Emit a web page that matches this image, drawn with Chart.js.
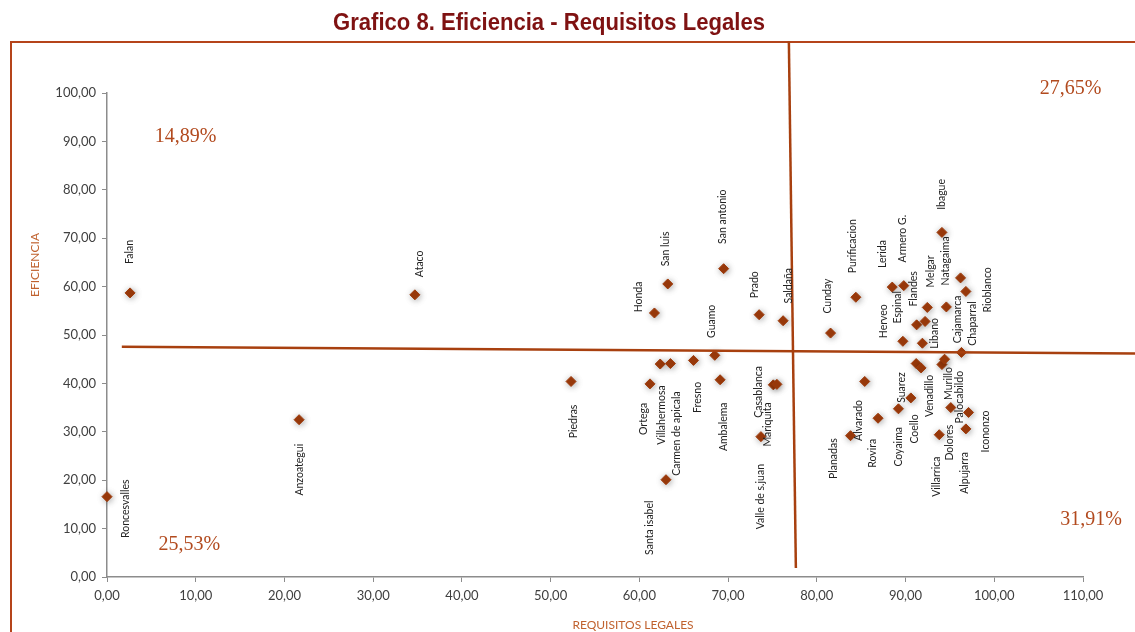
<!DOCTYPE html>
<html>
<head>
<meta charset="utf-8">
<script src="https://cdn.jsdelivr.net/npm/chart.js@4.4.0/dist/chart.umd.min.js"></script>
<style>
  html, body { margin: 0; padding: 0; background: #fff; }
</style>
</head>
<body>
<canvas id="myChart" width="1135" height="632"></canvas>
<script>
// municipios y sus valores (requisitos legales = x, eficiencia = y)
var municipios = [
  "Falan", "Ataco", "Honda", "San luis", "San antonio", "Prado", "Saldaña",
  "Roncesvalles", "Anzoategui", "Piedras", "Ortega", "Villahermosa", "Carmen de apicala",
  "Santa isabel", "Fresno", "Guamo", "Ambalema", "Casablanca", "Mariquita", "Valle de s.juan",
  "Cunday", "Purificacion", "Lerida", "Armero G.", "Ibague", "Rioblanco", "Chaparral",
  "Natagaima", "Melgar", "Espinal", "Herveo", "Flandes", "Libano", "Cajamarca",
  "Alvarado", "Planadas", "Rovira", "Coyaima", "Coello", "Suarez", "Venadillo",
  "Murillo", "Palocabildo", "Dolores", "Icononzo", "Alpujarra", "Villarrica"
];
var requisitos = [
  2.6, 34.7, 61.7, 63.2, 69.5, 73.5, 76.2,
  0.0, 21.65, 52.3, 61.2, 62.35, 63.5,
  63.0, 66.1, 68.5, 69.1, 75.1, 75.5, 73.7,
  81.55, 84.4, 88.5, 89.8, 94.1, 96.2, 96.8,
  94.6, 92.45, 89.7, 91.9, 91.25, 92.2, 96.3,
  85.4, 83.8, 86.9, 89.2, 90.6, 91.2, 91.75,
  94.1, 94.4, 95.1, 97.1, 96.8, 93.8
];
var eficiencia = [
  58.7, 58.3, 54.55, 60.55, 63.7, 54.2, 52.95,
  16.6, 32.5, 40.4, 39.9, 44.0, 44.1,
  20.1, 44.75, 45.8, 40.75, 39.7, 39.8, 29.0,
  50.4, 57.8, 59.9, 60.2, 71.2, 61.8, 59.0,
  55.8, 55.7, 48.7, 48.3, 52.1, 52.8, 46.4,
  40.4, 29.2, 32.8, 34.75, 37.0, 44.1, 43.2,
  43.9, 45.0, 35.0, 34.0, 30.6, 29.4
];

// lineas de los cuadrantes
var lineaHx = [1.67, 115.9];
var lineaHy = [47.55, 46.17];
var lineaVx = [76.85, 77.64];
var lineaVy = [110.7, 1.86];

// porcentajes por cuadrante
var cuadrantes = ["14,89%", "27,65%", "25,53%", "31,91%"];
var cuadX = [8.87, 108.6, 9.27, 110.9];
var cuadY = [91.0, 100.95, 6.6, 11.8];

// desplazamiento de las etiquetas (px) respecto al punto
var etiquetaOff = {
  "Falan": [0, -41], "Ataco": [5, -31], "Roncesvalles": [19, 12], "Anzoategui": [1, 50],
  "Piedras": [3, 40], "Honda": [-16, -16], "San luis": [-2, -35], "San antonio": [-1, -52],
  "Prado": [-5, -30], "Saldaña": [6, -35], "Guamo": [-3, -34], "Ortega": [-6, 35],
  "Villahermosa": [1, 51], "Carmen de apicala": [6, 70], "Fresno": [4, 37], "Ambalema": [4, 47],
  "Casablanca": [-15, 7], "Mariquita": [-9, 40], "Valle de s.juan": [0, 60], "Santa isabel": [-16, 48],
  "Cunday": [-3, -37], "Purificacion": [-3, -51], "Lerida": [-10, -33], "Armero G.": [-1, -47],
  "Ibague": [0, -38], "Natagaima": [-1, -46], "Melgar": [3, -36], "Rioblanco": [27, 12],
  "Chaparral": [7, 32], "Cajamarca": [-4, -33], "Espinal": [-5, -34], "Herveo": [-39, -22],
  "Flandes": [-3, -36], "Libano": [10, 12], "Alvarado": [-6, 39], "Planadas": [-17, 23],
  "Rovira": [-5, 35], "Coyaima": [0, 38], "Suarez": [-15, 24], "Coello": [4, 31],
  "Venadillo": [9, 28], "Murillo": [7, 19], "Palocabildo": [15, 38], "Dolores": [-1, 35],
  "Icononzo": [17, 19], "Alpujarra": [-1, 44], "Villarrica": [-3, 42]
};

var puntos = requisitos.map(function (x, i) { return { x: x, y: eficiencia[i] }; });
var lineaH = lineaHx.map(function (x, i) { return { x: x, y: lineaHy[i] }; });
var lineaV = lineaVx.map(function (x, i) { return { x: x, y: lineaVy[i] }; });

var fmt = function (v) { return v.toFixed(2).replace('.', ','); };

var marco = {
  id: 'marco',
  beforeDraw: function (chart) {
    var ctx = chart.ctx;
    ctx.save();
    ctx.fillStyle = '#fff';
    ctx.fillRect(0, 0, chart.width, chart.height);
    ctx.strokeStyle = '#b5441a';
    ctx.lineWidth = 2;
    ctx.beginPath();
    ctx.moveTo(11, chart.height);
    ctx.lineTo(11, 42);
    ctx.lineTo(chart.width, 42);
    ctx.stroke();
    // titulo (letra condensada)
    var titulo = 'Grafico 8. Eficiencia - Requisitos Legales';
    ctx.fillStyle = '#7f1212';
    ctx.font = 'bold 24px "Liberation Sans", Arial';
    ctx.textAlign = 'center';
    ctx.textBaseline = 'middle';
    var w = ctx.measureText(titulo).width;
    ctx.save();
    ctx.translate(549, 23);
    ctx.scale(432 / w, 1);
    ctx.fillText(titulo, 0, 0);
    ctx.restore();
    // titulos de ejes
    ctx.fillStyle = '#c0622f';
    ctx.font = '12px Lato, "Open Sans", sans-serif';
    ctx.fillText('REQUISITOS LEGALES', 633, 625);
    ctx.translate(35, 265);
    ctx.rotate(-Math.PI / 2);
    ctx.fillText('EFICIENCIA', 0, 0);
    ctx.restore();
  },
  beforeDatasetDraw: function (chart, args) {
    if (args.index === 2) {
      var ctx = chart.ctx;
      ctx.save();
      ctx.shadowColor = 'rgba(0,0,0,0.35)';
      ctx.shadowBlur = 6;
      ctx.shadowOffsetX = 1;
      ctx.shadowOffsetY = 1;
    }
  },
  afterDatasetDraw: function (chart, args) {
    if (args.index === 2) chart.ctx.restore();
  },
  afterDatasetsDraw: function (chart) {
    var ctx = chart.ctx;
    var xs = chart.scales.x, ys = chart.scales.y;
    ctx.save();
    ctx.fillStyle = '#222';
    ctx.font = '10.5px Lato, "Open Sans", sans-serif';
    ctx.textAlign = 'center';
    ctx.textBaseline = 'middle';
    chart.getDatasetMeta(2).data.forEach(function (pt, i) {
      var off = etiquetaOff[municipios[i]] || [0, -35];
      ctx.save();
      ctx.translate(pt.x + off[0], pt.y + off[1]);
      ctx.rotate(-Math.PI / 2);
      ctx.fillText(municipios[i], 0, 0);
      ctx.restore();
    });
    ctx.fillStyle = '#b24a1e';
    ctx.font = '20px "Liberation Serif", "DejaVu Serif", serif';
    cuadrantes.forEach(function (t, i) {
      ctx.fillText(t, xs.getPixelForValue(cuadX[i]), ys.getPixelForValue(cuadY[i]));
    });
    ctx.restore();
  }
};

var ctx = document.getElementById("myChart").getContext('2d');
var myChart = new Chart(ctx, {
  type: 'scatter',
  data: {
    datasets: [{
      data: lineaH,
      showLine: true,
      borderColor: '#a8400f',
      borderWidth: 2.5,
      pointRadius: 0,
      clip: false
    }, {
      data: lineaV,
      showLine: true,
      borderColor: '#a8400f',
      borderWidth: 2.5,
      pointRadius: 0,
      clip: false
    }, {
      data: puntos,
      pointStyle: 'rectRot',
      pointRadius: 5,
      backgroundColor: '#9e3b0b',
      borderColor: '#9e3b0b',
      borderWidth: 1,
      clip: false
    }]
  },
  options: {
    responsive: false,
    animation: false,
    layout: { padding: { top: 93, right: 52, left: 0, bottom: 0 } },
    plugins: { legend: { display: false }, tooltip: { enabled: false } },
    scales: {
      x: {
        min: 0, max: 110,
        ticks: { stepSize: 10, callback: fmt, color: '#404040', padding: 6, maxRotation: 0,
                 font: { family: 'Lato, "Open Sans", sans-serif', size: 13 } },
        grid: { display: true, drawOnChartArea: false, tickLength: 5, color: '#8c8c8c' },
        border: { color: '#8c8c8c', width: 1.5 },
        afterFit: function (s) { s.height = 55; }
      },
      y: {
        min: 0, max: 100,
        ticks: { stepSize: 10, callback: fmt, color: '#404040', padding: 6,
                 font: { family: 'Lato, "Open Sans", sans-serif', size: 13 } },
        grid: { display: true, drawOnChartArea: false, tickLength: 5, color: '#8c8c8c' },
        border: { color: '#8c8c8c', width: 1.5 },
        afterFit: function (s) { s.width = 107; }
      }
    }
  },
  plugins: [marco]
});
</script>
</body>
</html>
